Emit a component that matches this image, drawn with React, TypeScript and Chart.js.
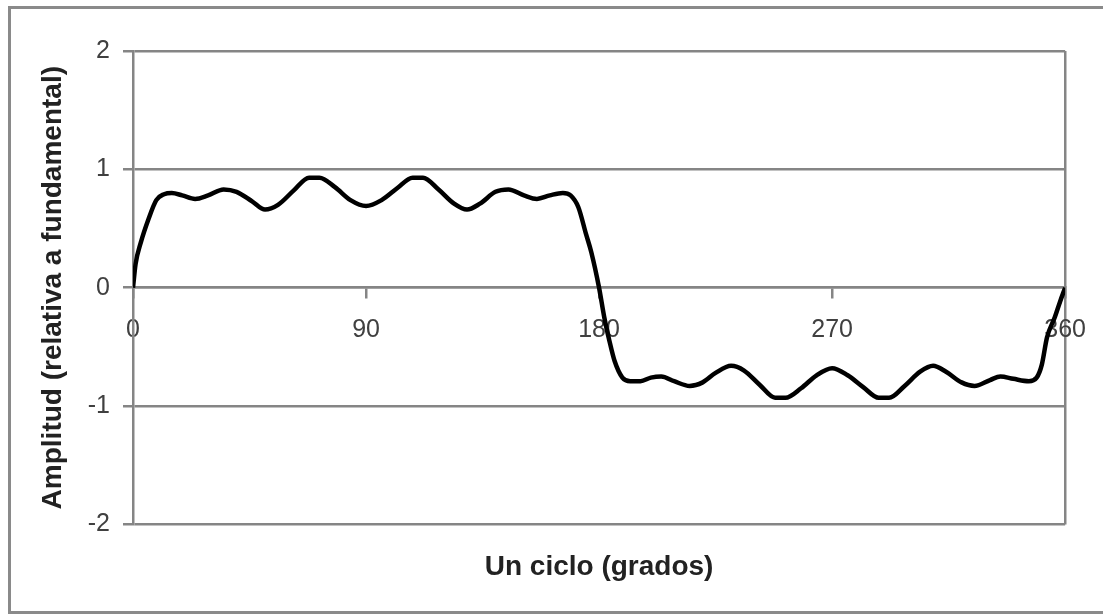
import React, { useEffect, useRef } from "react";
import { Chart, registerables } from "chart.js";

Chart.register(...registerables);

// Degrees along one cycle (x) and amplitude relative to the fundamental (y)
const degrees = [
  0, 1, 3, 6, 9, 12, 15, 19, 24, 29, 35, 40, 46, 51, 56, 62, 68, 72, 78, 84, 90,
  96, 102, 108, 112, 118, 124, 129, 134, 140, 145, 151, 156, 161, 166, 169, 172, 175, 177, 180,
  182, 184, 186, 189, 192, 196, 200, 204, 209, 215, 220, 225, 231, 236, 242, 248, 252, 258, 264, 270,
  276, 282, 288, 292, 298, 304, 309, 314, 320, 325, 331, 335, 340, 346, 349, 351, 353, 356, 358, 360,
];
const amplitude = [
  0, 0.2, 0.38, 0.58, 0.74, 0.79, 0.8, 0.78, 0.75, 0.78, 0.83, 0.81, 0.73, 0.66, 0.7, 0.82, 0.93, 0.93, 0.85, 0.74, 0.69,
  0.74, 0.84, 0.93, 0.93, 0.83, 0.71, 0.66, 0.71, 0.81, 0.83, 0.78, 0.75, 0.78, 0.8, 0.78, 0.68, 0.45, 0.3, 0,
  -0.25, -0.45, -0.62, -0.76, -0.79, -0.79, -0.76, -0.75, -0.79, -0.83, -0.8, -0.72, -0.66, -0.7, -0.82, -0.93, -0.93, -0.85, -0.74, -0.68,
  -0.74, -0.84, -0.93, -0.93, -0.83, -0.71, -0.66, -0.71, -0.8, -0.83, -0.78, -0.75, -0.77, -0.79, -0.76, -0.65, -0.42, -0.25, -0.12, 0,
];
const xTicks = [0, 90, 180, 270, 360];
const yTicks = [-2, -1, 0, 1, 2];
const xTitle = "Un ciclo (grados)";
const yTitle = "Amplitud (relativa a fundamental)";

const FONT = "'Liberation Sans', Arial, sans-serif";
const GRID = "#858585";

export default function App() {
  const canvasRef = useRef<HTMLCanvasElement | null>(null);

  useEffect(() => {
    document.body.style.margin = "0";
    const canvas = canvasRef.current;
    if (!canvas) return;
    const chart = new Chart(canvas, {
      type: "line",
      data: {
        datasets: [
          {
            data: degrees.map((d, i) => ({ x: d, y: amplitude[i] })),
            borderColor: "#000000",
            borderWidth: 4.5,
            pointRadius: 0,
            tension: 0.35,
            cubicInterpolationMode: "monotone",
            fill: false,
          },
        ],
      },
      options: {
        animation: false,
        responsive: false,
        devicePixelRatio: 1,
        layout: { padding: { left: 0, top: 51, right: 35, bottom: 0 } },
        plugins: {
          legend: { display: false },
          tooltip: { enabled: false },
          title: {
            display: true,
            text: xTitle,
            position: "bottom",
            fullSize: false,
            color: "#222222",
            font: { family: FONT, size: 28, weight: "bold" },
            padding: { top: 26, bottom: 32 },
          },
        },
        scales: {
          x: {
            type: "linear",
            min: 0,
            max: 360,
            position: { y: 0 },
            afterBuildTicks: (scale: any) => {
              scale.ticks = xTicks.map((v) => ({ value: v }));
            },
            ticks: {
              color: "#404040",
              font: { family: FONT, size: 25 },
              padding: 17,
              maxRotation: 0,
              autoSkip: false,
            },
            grid: {
              color: (ctx: any) => (ctx.tick && ctx.tick.value === 360 ? GRID : "rgba(0,0,0,0)"),
              tickColor: GRID,
              lineWidth: 2.5,
              tickLength: 10,
              drawTicks: true,
            },
            border: { display: true, color: GRID, width: 2.5 },
          },
          y: {
            type: "linear",
            min: -2,
            max: 2,
            afterBuildTicks: (scale: any) => {
              scale.ticks = yTicks.map((v) => ({ value: v }));
            },
            afterFit: (scale: any) => {
              scale.width = 133;
            },
            ticks: {
              color: "#404040",
              font: { family: FONT, size: 25 },
              padding: 13,
            },
            grid: {
              color: GRID,
              lineWidth: 2.5,
              tickLength: 10,
              drawTicks: true,
            },
            border: { display: true, color: GRID, width: 2.5 },
            title: {
              display: true,
              text: yTitle,
              color: "#222222",
              font: { family: FONT, size: 28, weight: "bold" },
              padding: { top: 36, bottom: 0 },
            },
          },
        },
      },
    } as any);
    return () => chart.destroy();
  }, []);

  return (
    <div style={{ position: "fixed", left: 0, top: 0, width: 1103, height: 616, background: "#ffffff", overflow: "hidden" }}>
      <div
        style={{
          position: "absolute",
          left: 8,
          top: 6,
          width: 1120,
          height: 608,
          border: "3px solid #8a8a8a",
          boxSizing: "border-box",
        }}
      />
      <canvas ref={canvasRef} width={1103} height={616} style={{ position: "absolute", left: 0, top: 0 }} />
    </div>
  );
}
